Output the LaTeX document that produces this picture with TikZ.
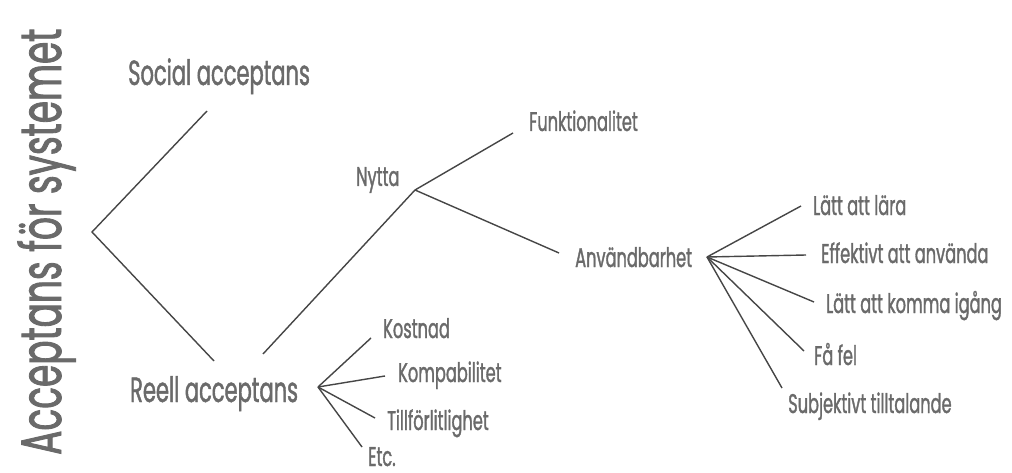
\documentclass[tikz,border=0pt]{standalone}
\usepackage{fontspec}
\setmainfont{Poppins}[FakeStretch=0.6,FakeBold=1.2]
\newfontfamily\titlefont{Poppins}[FakeStretch=0.63,FakeBold=1.5]
\begin{document}
\begin{tikzpicture}[x=1pt,y=-1pt,
  lbl/.style={anchor=base west,inner sep=0pt,text=txtgray,font=\fontsize{27}{30}\selectfont},
  biglbl/.style={anchor=base west,inner sep=0pt,text=txtgray,font=\fontsize{35}{40}\selectfont},
  conn/.style={draw=linegray,line width=1.4pt}]
\definecolor{txtgray}{HTML}{6A6A6A}
\definecolor{linegray}{HTML}{464646}
\useasboundingbox (0,0) rectangle (1012,473);
\fill[white] (0,0) rectangle (1012,473);
% title
\node[anchor=base west,inner sep=0pt,rotate=90,text=txtgray,font=\titlefont\fontsize{57}{60}\selectfont] (title) at (61,455) {Acceptans för systemet};
% labels
\node[biglbl] (social) at (128,85) {Social acceptans};
\node[biglbl] (reell) at (130,402) {Reell acceptans};
\node[lbl] (nytta) at (356,186) {Nytta};
\node[lbl] (funk) at (529,131) {Funktionalitet};
\node[lbl] (anv) at (575,267) {Användbarhet};
\node[lbl] (lara) at (813,215) {Lätt att lära};
\node[lbl] (eff) at (821,263) {Effektivt att använda};
\node[lbl] (komma) at (826,313) {Lätt att komma igång};
\node[lbl] (fel) at (814,365) {Få fel};
\node[lbl] (subj) at (788,413) {Subjektivt tilltalande};
\node[lbl] (kost) at (383,338) {Kostnad};
\node[lbl] (komp) at (398,382) {Kompabilitet};
\node[lbl] (till) at (387,430) {Tillförlitlighet};
\node[lbl] (etc) at (368,466) {Etc.};
% branch points and line ends
\coordinate (root) at (92,232);
\coordinate (socE) at (207,111);
\coordinate (reeE) at (214,361);
\coordinate (reeS) at (263,354);
\coordinate (nyV) at (415,190);
\coordinate (funE) at (513,133);
\coordinate (anvE) at (559,253);
\coordinate (anvV) at (707,257);
\coordinate (larE) at (801,206);
\coordinate (effE) at (806,255);
\coordinate (komE) at (814,302);
\coordinate (felE) at (804,351);
\coordinate (subE) at (782,388);
\coordinate (reV) at (318,387);
\coordinate (kosE) at (371,338);
\coordinate (kmpE) at (385,376);
\coordinate (tilE) at (375,418);
\coordinate (etcE) at (362,447);
% connectors
\draw[conn] (socE) -- (root) -- (reeE);
\draw[conn] (reeS) -- (nyV) -- (funE);
\draw[conn] (nyV) -- (anvE);
\draw[conn] (anvV) -- (larE);
\draw[conn] (anvV) -- (effE);
\draw[conn] (anvV) -- (komE);
\draw[conn] (anvV) -- (felE);
\draw[conn] (anvV) -- (subE);
\draw[conn] (reV) -- (kosE);
\draw[conn] (reV) -- (kmpE);
\draw[conn] (reV) -- (tilE);
\draw[conn] (reV) -- (etcE);
\end{tikzpicture}
\end{document}
